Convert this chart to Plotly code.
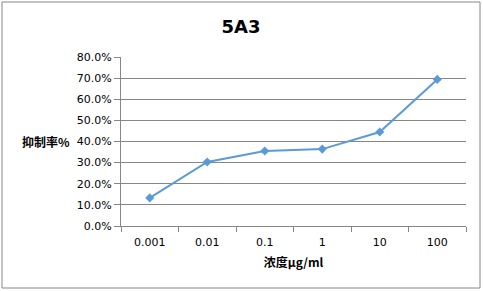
import plotly.graph_objects as go

categories = ["0.001", "0.01", "0.1", "1", "10", "100"]
inhibition = [0.133, 0.303, 0.355, 0.364, 0.445, 0.694]
y_ticks = [0, 0.1, 0.2, 0.3, 0.4, 0.5, 0.6, 0.7, 0.8]

W, H = 483, 291
L, R, T, B = 121, 17, 57, 65
pw, ph = W - L - R, H - T - B

fig = go.Figure()
fig.add_trace(go.Scatter(
    x=categories, y=inhibition, mode="lines+markers",
    line=dict(color="#5B9BD5", width=2),
    marker=dict(symbol="diamond", size=7, color="#5B9BD5"),
    showlegend=False,
))

font_main = "DejaVu Sans, Noto Sans CJK SC"
fig.update_layout(
    width=W, height=H,
    margin=dict(l=L, r=R, t=T, b=B),
    paper_bgcolor="white", plot_bgcolor="white",
    title=dict(text="<b>5A3</b>", x=241 / W, xref="container", xanchor="center",
               y=1 - 27 / H, yref="container", yanchor="middle",
               font=dict(family="DejaVu Sans", size=18, color="black")),
    xaxis=dict(
        type="category", showgrid=False, showline=True, linecolor="#868686",
        ticks="outside", tickson="boundaries", ticklen=5, tickcolor="#868686",
        tickfont=dict(family=font_main, size=11, color="black"),
        ticklabelstandoff=6,
        range=[-0.5, 5.5],
        title=dict(text="<b>浓度μg/ml</b>", standoff=10,
                   font=dict(family="Noto Sans CJK SC", size=12, color="black")),
    ),
    yaxis=dict(
        range=[0, 0.8], tickvals=y_ticks, tickformat=".1%",
        showgrid=True, gridcolor="#868686", gridwidth=1,
        showline=True, linecolor="#868686",
        ticks="outside", ticklen=6, tickcolor="#868686",
        tickfont=dict(family=font_main, size=11, color="black"),
        zeroline=False,
    ),
    annotations=[dict(
        text="<b>抑制率%</b>", xref="paper", yref="paper",
        x=(46 - L) / pw, y=0.5 - (141 - (T + ph / 2)) / ph,
        showarrow=False, xanchor="center", yanchor="middle",
        font=dict(family="Noto Sans CJK SC", size=12, color="black"),
    )],
    shapes=[dict(
        type="rect", xref="paper", yref="paper",
        x0=(2 - L) / pw, x1=(480 - L) / pw,
        y0=1 - (288 - T) / ph, y1=1 - (2 - T) / ph,
        line=dict(color="#868686", width=1), fillcolor="rgba(0,0,0,0)", layer="below",
    )],
)

fig.write_html("out.html")
